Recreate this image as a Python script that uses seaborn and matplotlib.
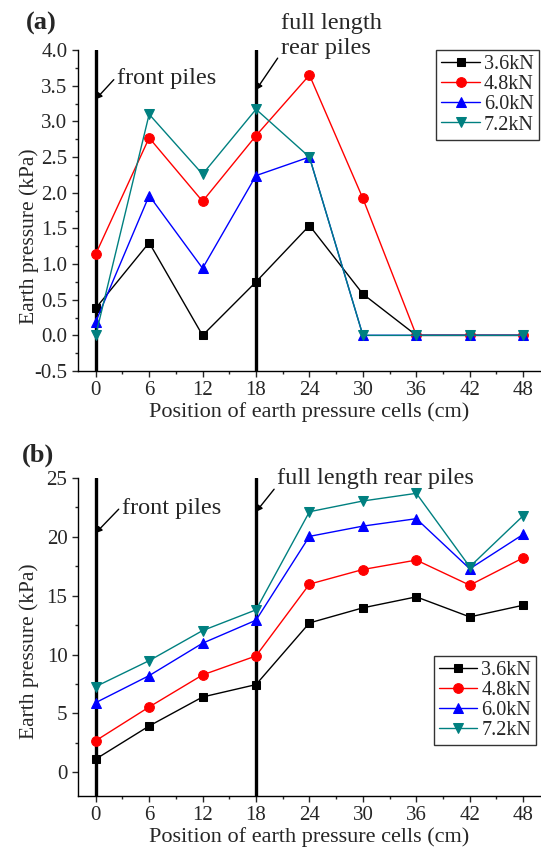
"""Earth pressure along the cell line, two loading cases (a) and (b)."""

import matplotlib
matplotlib.use("Agg")
import matplotlib.pyplot as plt
from matplotlib.ticker import MultipleLocator
import pandas as pd
import seaborn as sns

positions = [0, 6, 12, 18, 24, 30, 36, 42, 48]
loads = ["3.6kN", "4.8kN", "6.0kN", "7.2kN"]

# panel (a)
a_36 = [0.38, 1.30, 0.00, 0.75, 1.54, 0.58, 0.00, 0.00, 0.00]
a_48 = [1.14, 2.77, 1.88, 2.80, 3.65, 1.92, 0.00, 0.00, 0.00]
a_60 = [0.19, 1.96, 0.94, 2.24, 2.50, 0.00, 0.00, 0.00, 0.00]
a_72 = [0.00, 3.10, 2.26, 3.17, 2.50, 0.00, 0.00, 0.00, 0.00]

# panel (b)
b_36 = [1.13, 3.94, 6.40, 7.45, 12.68, 13.96, 14.89, 13.19, 14.18]
b_48 = [2.69, 5.55, 8.27, 9.88, 15.97, 17.21, 18.01, 15.88, 18.20]
b_60 = [5.92, 8.21, 10.96, 12.91, 20.02, 20.89, 21.52, 17.27, 20.19]
b_72 = [7.28, 9.48, 12.03, 13.79, 22.11, 23.02, 23.67, 17.44, 21.77]

pile_positions = [0, 18]

COLORS = ["#000000", "#ff0000", "#0000ff", "#008080"]
MARKERS = ["s", "o", "^", "v"]
MSIZES = [6, 7, 7.5, 7.5]
ARROW = dict(arrowstyle="-|>", color="black", lw=1.0, mutation_scale=9,
             shrinkA=0, shrinkB=0)


def long_frame(series):
    rows = []
    for load, values in zip(loads, series):
        for x, y in zip(positions, values):
            rows.append({"position": x, "pressure": y, "load": load})
    return pd.DataFrame(rows)


def draw_panel(ax, series, ylim, major, minor):
    frame = long_frame(series)
    for pos in pile_positions:
        ax.axvline(pos, color="black", lw=2.4, zorder=1)
    for load, color, marker, ms in zip(loads, COLORS, MARKERS, MSIZES):
        sub = frame[frame["load"] == load]
        sns.lineplot(data=sub, x="position", y="pressure", color=color, marker=marker,
                     markersize=ms, markeredgecolor=color, lw=1.0, label=load, ax=ax, zorder=3)
    ax.set_xlim(-2, 50)
    ax.set_ylim(*ylim)
    ax.xaxis.set_major_locator(MultipleLocator(6))
    ax.xaxis.set_minor_locator(MultipleLocator(3))
    ax.yaxis.set_major_locator(MultipleLocator(major))
    ax.yaxis.set_minor_locator(MultipleLocator(minor))
    ax.tick_params(which="major", direction="out", length=4.5, width=1, labelsize=15, pad=3)
    ax.tick_params(which="minor", direction="out", length=2.5, width=1)
    for side in ("top", "right"):
        ax.spines[side].set_visible(False)
    for side in ("left", "bottom"):
        ax.spines[side].set_linewidth(1.0)
        ax.spines[side].set_color("black")
    ax.set_xlabel("Position of earth pressure cells (cm)", fontsize=16, labelpad=1)
    ax.set_ylabel("Earth pressure (kPa)", fontsize=15.5)
    ax.grid(False)


def style_legend(ax, anchor):
    leg = ax.legend(loc="upper right", bbox_to_anchor=anchor, fontsize=14.5, frameon=True,
                    fancybox=False, edgecolor="black", handlelength=1.9, handletextpad=0.2,
                    borderpad=0.25, labelspacing=0.05, borderaxespad=0)
    leg.get_frame().set_linewidth(1.0)


sns.set_theme(style="ticks")
plt.rcParams["font.family"] = ["Liberation Serif", "DejaVu Serif"]

fig = plt.figure(figsize=(5.41, 8.49), dpi=100)
ax_a = fig.add_axes([0.144, 0.563, 0.856, 0.378])
ax_b = fig.add_axes([0.144, 0.0624, 0.856, 0.375])

draw_panel(ax_a, [a_36, a_48, a_60, a_72], (-0.5, 4.0), 0.5, 0.25)
ax_a.yaxis.set_major_formatter(lambda v, _: f"{v:.1f}")
ax_a.yaxis.set_label_coords(-0.085, 0.42)
style_legend(ax_a, (0.995, 1.0))
ax_a.annotate("front piles", xy=(0, 3.31), xytext=(2.4, 3.6), fontsize=17.5,
              va="center", ha="left",
              arrowprops=dict(ARROW, relpos=(0, 0.62)))
ax_a.annotate("full length\nrear piles", xy=(18, 3.44), xytext=(20.8, 4.2), fontsize=17.5,
              va="center", ha="left", linespacing=1.25, annotation_clip=False,
              arrowprops=dict(ARROW, relpos=(0, 0.12)))
fig.text(0.048, 0.986, "(a)", fontsize=19, fontweight="bold", va="top", ha="left")

draw_panel(ax_b, [b_36, b_48, b_60, b_72], (-2, 25), 5, 2.5)
ax_b.yaxis.set_label_coords(-0.085, 0.455)
style_legend(ax_b, (0.99, 0.44))
ax_b.annotate("front piles", xy=(0, 20.3), xytext=(2.95, 22.4), fontsize=17.5,
              va="center", ha="left",
              arrowprops=dict(ARROW, relpos=(0, 0.62)))
ax_b.annotate("full length rear piles", xy=(18, 22.1), xytext=(20.4, 24.9), fontsize=17.5,
              va="center", ha="left", annotation_clip=False,
              arrowprops=dict(ARROW, relpos=(0, 0.2)))
fig.text(0.04, 0.478, "(b)", fontsize=19, fontweight="bold", va="top", ha="left")

fig.savefig("out.png", dpi=100)
